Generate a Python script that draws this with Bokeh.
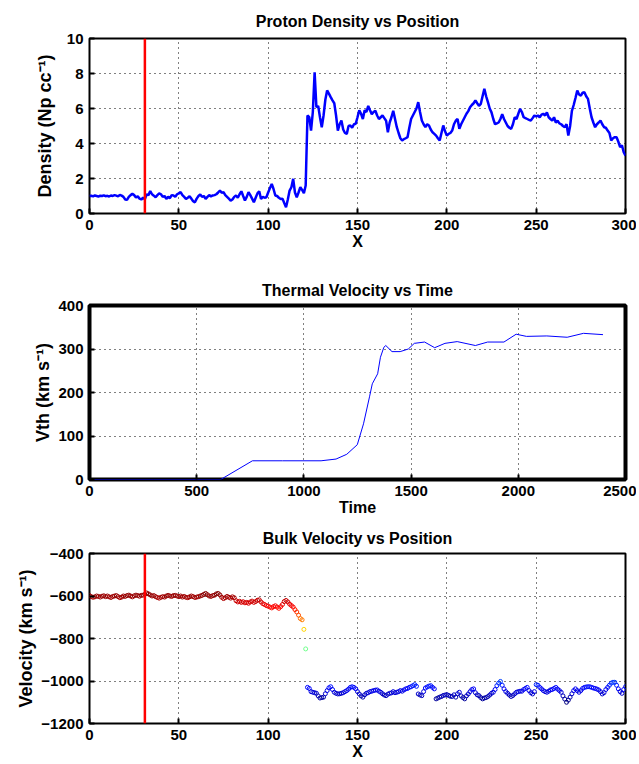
import numpy as np
from bokeh.plotting import figure
from bokeh.models import Span, FixedTicker, Range1d, ColumnDataSource
from bokeh.layouts import column
from bokeh.embed import file_html
from bokeh.resources import INLINE
from bokeh.transform import linear_cmap

# ---------------- data ----------------
marker_x = 31  # red vertical marker position

# Proton density, sampled every 1 unit of X from 0 to 300
density = [
    1.00, 1.02, 0.98, 1.03, 1.00, 0.97, 1.02, 1.00, 1.04, 0.99,
    1.01, 0.97, 1.03, 1.00, 1.05, 1.02, 0.98, 1.06, 1.02, 0.95,
    0.80, 0.78, 0.95, 1.05, 1.12, 1.05, 0.92, 0.98, 0.85, 0.80,
    0.90, 0.82, 1.10, 1.05, 1.28, 1.10, 1.02, 0.93, 1.05, 1.15,
    1.10, 0.95, 1.00, 0.83, 0.95, 0.88, 1.05, 1.03, 0.95, 1.10,
    1.15, 1.22, 1.05, 0.95, 0.83, 0.90, 0.98, 0.85, 0.70, 0.64,
    0.85, 1.00, 1.09, 0.95, 1.00, 0.83, 0.95, 1.05, 0.98, 1.03,
    1.05, 1.10, 1.20, 1.31, 1.18, 1.22, 1.05, 0.95, 0.85, 0.74,
    0.80, 0.95, 1.03, 0.90, 1.10, 1.27, 1.00, 0.74, 0.95, 1.22,
    1.05, 0.85, 0.64, 0.90, 1.15, 1.27, 0.83, 0.95, 0.90, 0.93,
    1.20, 1.45, 1.69, 1.40, 1.03, 1.00, 0.90, 0.83, 0.85, 0.60,
    0.36, 0.80, 1.31, 1.50, 1.98, 1.20, 0.93, 1.20, 1.50, 1.35,
    1.16, 1.60, 5.60, 5.50, 4.74, 5.80, 8.07, 6.07, 6.15, 5.50,
    4.93, 5.60, 6.50, 7.03, 6.85, 6.65, 6.46, 6.30, 5.60, 4.74,
    5.10, 5.31, 4.80, 4.60, 4.55, 5.00, 5.03, 4.90, 5.10, 5.13,
    5.50, 5.90, 5.70, 5.40, 5.90, 5.80, 6.15, 5.90, 5.68, 5.80,
    5.87, 5.60, 5.40, 5.50, 5.60, 5.45, 5.30, 4.64, 5.20, 5.50,
    5.87, 5.40, 4.93, 4.60, 4.30, 4.17, 4.25, 4.30, 4.36, 4.90,
    5.40, 5.60, 5.80, 6.00, 6.36, 5.80, 5.31, 5.10, 4.93, 5.10,
    5.03, 4.80, 4.64, 4.55, 4.45, 4.30, 4.17, 4.60, 5.03, 4.70,
    4.45, 4.55, 4.60, 4.74, 5.10, 5.30, 5.40, 4.84, 5.10, 5.30,
    5.50, 5.70, 5.85, 6.07, 6.20, 6.30, 6.46, 6.30, 6.15, 6.26,
    6.70, 7.13, 6.70, 6.36, 6.00, 5.78, 5.40, 5.10, 5.15, 5.20,
    5.40, 5.68, 5.40, 5.20, 5.00, 4.90, 4.84, 5.10, 5.50, 5.40,
    5.70, 5.98, 5.80, 5.50, 5.45, 5.40, 5.35, 5.31, 5.45, 5.60,
    5.55, 5.60, 5.50, 5.65, 5.70, 5.60, 5.78, 5.50, 5.40, 5.31,
    5.50, 5.20, 5.30, 5.15, 5.10, 5.00, 4.93, 5.10, 4.45, 5.00,
    5.87, 6.20, 6.60, 7.03, 6.80, 6.74, 6.90, 6.93, 6.70, 6.55,
    6.00, 5.50, 5.20, 4.93, 5.10, 5.20, 5.31, 5.10, 4.93, 4.90,
    4.74, 4.60, 4.17, 4.30, 4.36, 4.36, 4.10, 3.79, 3.90, 3.50,
    3.31,
]
density_x = list(range(len(density)))

# Thermal velocity vs time
vth_time = [0, 300, 612, 760, 900, 1080, 1150, 1200, 1249, 1278, 1306, 1319,
            1344, 1357, 1373, 1382, 1411, 1449, 1487, 1515, 1563, 1610, 1658,
            1715, 1800, 1857, 1933, 1990, 2038, 2133, 2228, 2304, 2395]
vth = [0, 0, 0, 43, 43, 43, 47, 58, 80, 128, 190, 220,
       243, 281, 304, 308, 294, 294, 300, 313, 316, 303, 313,
       317, 308, 316, 316, 334, 329, 330, 327, 336, 333]

# Bulk velocity, sampled every 1 unit of X from 0 to 300
bulk_v = [
    -598, -603, -606, -604, -600, -602, -605, -601, -599, -603,
    -600, -604, -607, -602, -600, -598, -603, -608, -605, -600,
    -602, -598, -596, -600, -604, -599, -596, -598, -601, -597,
    -596, -592, -586, -590, -595, -600, -598, -603, -607, -610,
    -606, -603, -605, -600, -597, -600, -602, -598, -597, -600,
    -603, -600, -605, -602, -606, -608, -604, -600, -603, -607,
    -605, -603, -600, -597, -592, -588, -594, -600, -602, -598,
    -596, -590, -588, -595, -606, -612, -608, -602, -606, -610,
    -604, -608, -622, -628, -625, -630, -627, -632, -630, -634,
    -628, -624, -630, -626, -620, -618, -628, -636, -640, -645,
    -648, -652, -656, -650, -646, -652, -658, -650, -640, -626,
    -621, -628, -638, -645, -652, -664, -675, -690, -706, -712,
    -757, -849,
    -1030, -1035, -1050, -1053, -1055, -1058, -1070, -1080,
    -1078, -1076, -1060, -1045, -1032, -1027, -1040, -1053, -1058, -1061,
    -1060, -1058, -1055, -1050, -1045, -1038, -1030, -1027, -1030, -1037,
    -1050, -1061, -1070, -1076, -1065, -1058, -1055, -1050, -1048, -1045,
    -1043, -1042, -1048, -1053, -1060, -1066, -1069, -1062, -1058, -1056,
    -1050, -1055, -1053, -1050, -1045, -1048, -1042, -1037, -1035, -1030,
    -1027, -1022, -1017, -1025, -1061, -1066, -1069, -1050, -1033, -1028,
    -1024, -1022, -1030, -1037, -1084, -1080, -1076, -1073, -1068, -1066,
    -1064, -1068, -1072, -1073, -1065, -1076, -1060, -1053, -1070, -1078,
    -1084, -1070, -1061, -1050, -1040, -1037, -1055, -1065, -1069, -1078,
    -1084, -1080, -1078, -1073, -1066, -1058, -1053, -1040, -1022, -1010,
    -1002, -1020, -1037, -1050, -1058, -1066, -1073, -1068, -1060, -1053,
    -1050, -1048, -1048, -1040, -1035, -1030, -1045, -1055, -1061, -1050,
    -1017, -1020, -1030, -1037, -1045, -1050, -1053, -1048, -1042, -1040,
    -1035, -1030, -1038, -1045, -1053, -1070, -1085, -1100, -1090, -1076,
    -1060, -1045, -1037, -1045, -1053, -1045, -1035, -1030, -1028, -1027,
    -1027, -1030, -1033, -1035, -1038, -1042, -1050, -1061, -1055, -1040,
    -1030, -1020, -1010, -1006, -1006, -1020, -1037, -1050, -1058, -1040,
    -1027,
]
bulk_x = list(range(len(bulk_v)))

x_ticks = [0, 50, 100, 150, 200, 250, 300]
t_ticks = [0, 500, 1000, 1500, 2000, 2500]
dens_ticks = [0, 2, 4, 6, 8, 10]
vth_ticks = [0, 100, 200, 300, 400]
bulk_ticks = [-1200, -1000, -800, -600, -400]

# ---------------- style helpers ----------------
FONT = "Liberation Sans"


def jet(n=256):
    cols = []
    for i in range(n):
        x = i / (n - 1)
        r = min(max(1.5 - abs(4 * x - 3), 0), 1)
        g = min(max(1.5 - abs(4 * x - 2), 0), 1)
        b = min(max(1.5 - abs(4 * x - 1), 0), 1)
        cols.append("#%02x%02x%02x" % (int(r * 255), int(g * 255), int(b * 255)))
    return cols


def make_fig(title, xr, yr, xt, yt, xlabel, ylabel, h, top, bottom,
             outline_w, title_standoff, ylabel_standoff):
    p = figure(width=636, height=h, x_range=Range1d(*xr), y_range=Range1d(*yr),
               output_backend="svg", toolbar_location=None,
               min_border_left=89, min_border_right=11,
               min_border_top=top, min_border_bottom=bottom)
    p.title.text = title
    p.title.align = "center"
    p.title.text_font = FONT
    p.title.text_font_size = "16px"
    p.title.text_font_style = "bold"
    p.title.text_color = "black"
    p.title.standoff = title_standoff
    p.outline_line_color = "black"
    p.outline_line_width = outline_w
    p.outline_line_alpha = 1
    p.background_fill_color = "white"
    p.border_fill_color = "white"

    p.xaxis.ticker = FixedTicker(ticks=xt)
    p.yaxis.ticker = FixedTicker(ticks=yt)
    p.xgrid.ticker = FixedTicker(ticks=xt)
    p.ygrid.ticker = FixedTicker(ticks=yt)
    for g in (p.xgrid, p.ygrid):
        g.grid_line_color = "black"
        g.grid_line_dash = "1 4"
        g.grid_line_width = 1
        g.grid_line_alpha = 1

    for ax in (p.xaxis, p.yaxis):
        ax.axis_line_color = None
        ax.major_tick_in = 5
        ax.major_tick_out = 0
        ax.major_tick_line_width = 2
        ax.minor_tick_line_color = None
        ax.major_label_text_font = FONT
        ax.major_label_text_font_size = "15px"
        ax.major_label_text_font_style = "bold"
        ax.major_label_text_color = "black"
        ax.axis_label_text_font = FONT
        ax.axis_label_text_font_style = "bold"
        ax.axis_label_text_color = "black"
    p.xaxis.axis_label_text_font_size = "16px"
    p.yaxis.axis_label_text_font_size = "18px"
    p.xaxis.major_label_standoff = 6
    p.yaxis.major_label_standoff = 6
    p.xaxis.axis_label_standoff = 0
    p.yaxis.axis_label_standoff = ylabel_standoff
    p.xaxis.axis_label = xlabel
    p.yaxis.axis_label = ylabel
    p.yaxis.major_label_overrides = {v: str(v).replace("-", "\u2212") for v in yt}
    return p


# ---------------- plot 1: density ----------------
p1 = make_fig("Proton Density vs Position", (0, 300), (0, 10), x_ticks, dens_ticks,
              "X", "Density (Np cc\u207b\u00b9)", 260, 38, 47, 2, 17, 9)
p1.line(density_x, density, line_color="#0000ff", line_width=2.5)
p1.add_layout(Span(location=marker_x, dimension="height", line_color="#ff0000", line_width=2.5))

# ---------------- plot 2: thermal velocity ----------------
p2 = make_fig("Thermal Velocity vs Time", (0, 2500), (0, 400), t_ticks, vth_ticks,
              "Time", "Vth (km s\u207b\u00b9)", 260, 45, 41, 4, 14, 2)
p2.line(vth_time, vth, line_color="#0000ff", line_width=1)

# ---------------- plot 3: bulk velocity ----------------
p3 = make_fig("Bulk Velocity vs Position", (0, 300), (-1200, -400), x_ticks, bulk_ticks,
              "X", "Velocity (km s\u207b\u00b9)", 242, 32, 39, 2, 14, 2)
src = ColumnDataSource(dict(x=bulk_x, v=bulk_v))
p3.scatter("x", "v", source=src, size=4, fill_color=None, line_width=1,
           line_color=linear_cmap("v", jet(), -1100, -585))
p3.add_layout(Span(location=marker_x, dimension="height", line_color="#ff0000", line_width=2.5))

layout = column(p1, p2, p3, spacing=0)
open("out.html", "w").write(file_html(layout, INLINE))
